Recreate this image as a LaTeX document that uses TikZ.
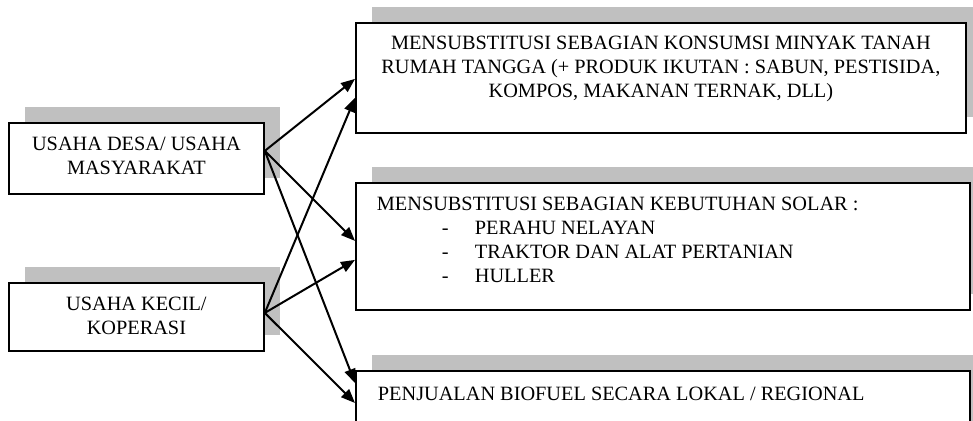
\documentclass[tikz,border=0pt]{standalone}
\usepackage{fontspec}
\setmainfont{Liberation Serif}
\usetikzlibrary{arrows.meta,shadows}
\definecolor{shgray}{HTML}{C0C0C0}
\tikzset{
  box/.style={draw=black, line width=1.8pt, fill=white, inner sep=0pt, anchor=north west,
    font=\fontsize{20.3}{24}\selectfont,
    drop shadow={shadow xshift=16pt, shadow yshift=16pt, fill=shgray, opacity=1}},
  conn/.style={line width=2pt, -{Triangle[length=14pt,width=11pt]}},
}
\newcommand\boxcontent[4]{\parbox[t][#2][t]{#1}{\vspace*{#3}#4}}
\begin{document}
\begin{tikzpicture}[x=1pt,y=-1pt]
\useasboundingbox (0,0) rectangle (973,420);
\clip (0,0) rectangle (973,420);
\node[box] (A) at (8,122) {\boxcontent{255pt}{71pt}{11pt}{\centering\strut USAHA DESA/ USAHA\\MASYARAKAT}};
\node[box] (B) at (8,282) {\boxcontent{255pt}{68pt}{11pt}{\centering\strut USAHA KECIL/\\KOPERASI}};
\node[box] (C) at (355,22) {\boxcontent{610pt}{110pt}{10pt}{\centering\strut MENSUBSTITUSI SEBAGIAN KONSUMSI MINYAK TANAH\\RUMAH TANGGA (+ PRODUK IKUTAN : SABUN, PESTISIDA,\\KOMPOS, MAKANAN TERNAK, DLL)}};
\node[box] (D) at (355,182) {\boxcontent{614pt}{127pt}{11pt}{\raggedright
  \hspace*{21pt}\strut MENSUBSTITUSI SEBAGIAN KEBUTUHAN SOLAR :\\
  \hspace*{86pt}\makebox[33pt][l]{-}PERAHU NELAYAN\\
  \hspace*{86pt}\makebox[33pt][l]{-}TRAKTOR DAN ALAT PERTANIAN\\
  \hspace*{86pt}\makebox[33pt][l]{-}HULLER}};
\node[box] (E) at (355,370) {\boxcontent{614pt}{70pt}{13pt}{\raggedright\hspace*{22pt}\strut PENJUALAN BIOFUEL SECARA LOKAL / REGIONAL}};
\draw[conn] ([yshift=7.5pt]A.east) -- ([yshift=-1pt]C.west);
\draw[conn] ([yshift=7.5pt]A.east) -- ([yshift=5.5pt]D.west);
\draw[conn] ([yshift=7.5pt]A.east) -- ([yshift=-13pt]E.north west);
\draw[conn] ([yshift=4pt]B.east) -- ([yshift=-20pt]C.west);
\draw[conn] ([yshift=4pt]B.east) -- ([yshift=-13.5pt]D.west);
\draw[conn] ([yshift=4pt]B.east) -- ([yshift=-33pt]E.north west);
\end{tikzpicture}
\end{document}
